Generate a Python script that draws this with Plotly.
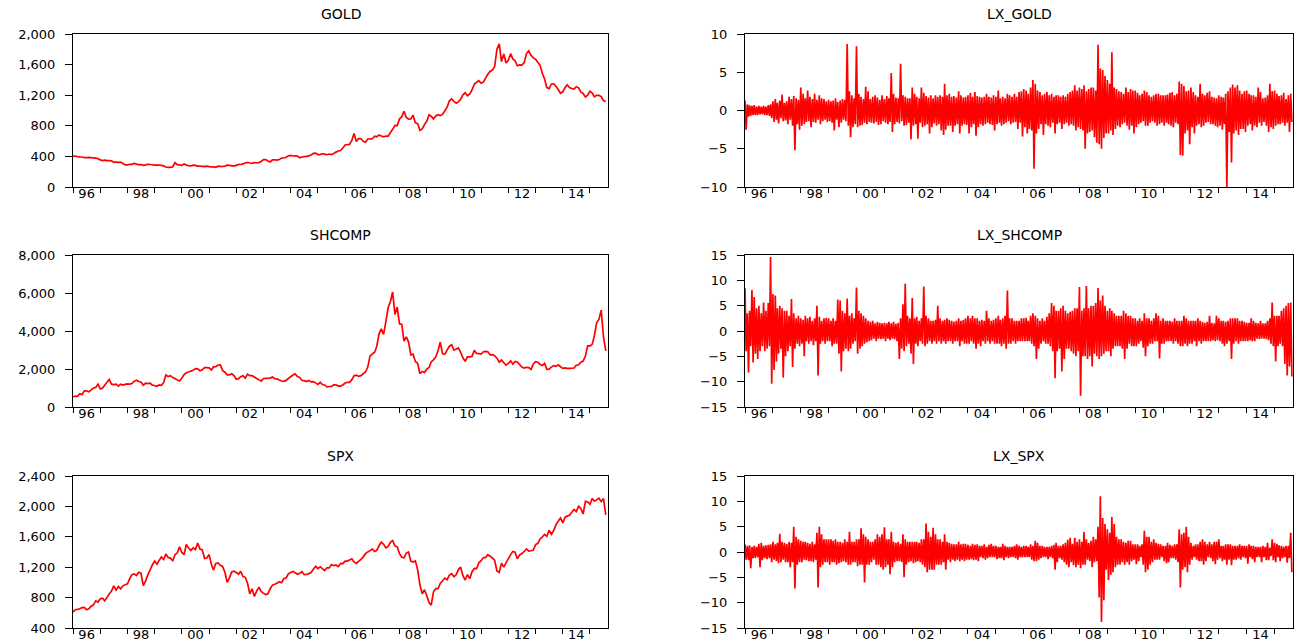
import pandas as pd
import plotly.graph_objects as go

# ---------------- data (monthly readings, Jan 1996 - Aug 2015) ----------------
MONTHS = pd.date_range("1996-01-01", "2015-08-01", freq="MS")

GOLD = [
    400, 405, 396, 393, 392, 385, 383, 387, 383, 381, 378, 369,
    355, 346, 352, 344, 344, 341, 324, 324, 323, 325, 306, 289,
    289, 297, 296, 308, 299, 292, 293, 284, 289, 296, 294, 291,
    287, 287, 286, 282, 277, 261, 256, 257, 265, 320, 293, 290,
    284, 300, 286, 280, 275, 285, 282, 274, 273, 270, 266, 272,
    266, 262, 263, 258, 272, 270, 268, 273, 285, 283, 276, 276,
    282, 296, 294, 302, 314, 322, 314, 310, 319, 317, 319, 333,
    357, 359, 340, 328, 355, 356, 351, 360, 379, 379, 389, 407,
    414, 405, 406, 404, 383, 392, 398, 400, 406, 420, 439, 442,
    424, 424, 434, 429, 422, 431, 424, 438, 456, 470, 476, 510,
    549, 555, 557, 610, 700, 596, 633, 632, 598, 586, 628, 629,
    631, 664, 655, 679, 667, 655, 665, 665, 712, 754, 806, 803,
    889, 922, 990, 909, 888, 889, 939, 839, 829, 740, 760, 816,
    858, 943, 925, 890, 928, 945, 934, 949, 996, 1043, 1127, 1150,
    1118, 1095, 1113, 1148, 1205, 1232, 1193, 1215, 1271, 1343, 1370, 1391,
    1356, 1372, 1424, 1473, 1510, 1529, 1572, 1800, 1870, 1640, 1739, 1620,
    1656, 1743, 1674, 1650, 1585, 1596, 1594, 1626, 1744, 1780, 1721, 1688,
    1670, 1627, 1593, 1487, 1414, 1300, 1286, 1347, 1349, 1316, 1275, 1225,
    1244, 1300, 1336, 1299, 1287, 1279, 1311, 1296, 1239, 1223, 1176, 1200,
    1251, 1227, 1179, 1198, 1199, 1181, 1131, 1117,
]

SHCOMP = [
    537, 570, 560, 700, 650, 850, 850, 800, 900, 1000, 1030, 1200,
    950, 1000, 1150, 1300, 1450, 1200, 1180, 1200, 1100, 1200, 1150, 1190,
    1220, 1200, 1240, 1350, 1410, 1340, 1320, 1150, 1250, 1230, 1250, 1150,
    1130, 1090, 1160, 1140, 1280, 1690, 1600, 1650, 1550, 1500, 1420, 1370,
    1530, 1710, 1800, 1840, 1890, 1930, 2020, 2010, 1910, 1960, 2070, 2070,
    2060, 1950, 2110, 2120, 2210, 2220, 1920, 1830, 1690, 1690, 1750, 1650,
    1460, 1490, 1600, 1650, 1520, 1730, 1650, 1650, 1580, 1500, 1440, 1360,
    1500, 1510, 1510, 1520, 1580, 1490, 1480, 1420, 1370, 1350, 1400, 1500,
    1590, 1680, 1740, 1600, 1560, 1400, 1390, 1340, 1400, 1320, 1340, 1270,
    1190, 1300, 1180, 1160, 1060, 1080, 1080, 1160, 1160, 1100, 1100, 1160,
    1260, 1300, 1300, 1440, 1640, 1670, 1610, 1650, 1750, 1840, 2100, 2680,
    2790, 2880, 3180, 3840, 4110, 3820, 4470, 5220, 5550, 6050, 4870, 5260,
    4380, 4350, 3470, 3690, 3430, 2740, 2780, 2400, 2290, 1750, 1870, 1820,
    1990, 2080, 2370, 2480, 2630, 2960, 3412, 2800, 2780, 2990, 3200, 3280,
    2990, 3050, 3110, 2870, 2590, 2400, 2640, 2640, 2660, 2980, 2820, 2810,
    2790, 2910, 2930, 2910, 2740, 2760, 2700, 2570, 2360, 2470, 2330, 2200,
    2290, 2430, 2260, 2400, 2370, 2230, 2100, 2050, 2090, 2070, 1980, 2270,
    2390, 2360, 2240, 2180, 2300, 1980, 1990, 2100, 2170, 2140, 2220, 2120,
    2030, 2060, 2030, 2030, 2040, 2050, 2200, 2220, 2360, 2420, 2680, 3230,
    3210, 3310, 3750, 4440, 4610, 5100, 3700, 2950,
]

SPX = [
    610, 640, 645, 654, 669, 671, 640, 652, 687, 705, 757, 741,
    786, 791, 757, 801, 848, 885, 954, 899, 947, 915, 955, 970,
    980, 1049, 1102, 1112, 1091, 1134, 1121, 957, 1017, 1099, 1164, 1229,
    1280, 1238, 1286, 1335, 1302, 1373, 1329, 1320, 1283, 1363, 1389, 1469,
    1394, 1366, 1499, 1452, 1421, 1455, 1431, 1518, 1437, 1429, 1315, 1320,
    1366, 1240, 1160, 1249, 1256, 1224, 1211, 1134, 1000, 1060, 1139, 1148,
    1130, 1107, 1147, 1077, 1067, 990, 850, 916, 815, 886, 936, 880,
    856, 841, 848, 917, 964, 975, 990, 1008, 996, 1051, 1058, 1112,
    1131, 1145, 1126, 1107, 1121, 1141, 1102, 1104, 1115, 1130, 1174, 1212,
    1181, 1204, 1181, 1157, 1192, 1191, 1234, 1220, 1229, 1207, 1249, 1248,
    1280, 1281, 1295, 1311, 1270, 1250, 1277, 1304, 1336, 1378, 1401, 1418,
    1438, 1407, 1421, 1482, 1531, 1503, 1455, 1474, 1527, 1549, 1481, 1468,
    1379, 1331, 1323, 1386, 1400, 1280, 1267, 1283, 1165, 969, 850, 903,
    826, 735, 700, 873, 919, 919, 987, 1021, 1057, 1036, 1096, 1115,
    1074, 1104, 1169, 1200, 1089, 1031, 1102, 1049, 1141, 1183, 1181, 1258,
    1286, 1327, 1326, 1364, 1345, 1321, 1292, 1150, 1131, 1253, 1200, 1258,
    1312, 1366, 1408, 1398, 1310, 1362, 1379, 1407, 1441, 1412, 1416, 1426,
    1498, 1515, 1569, 1598, 1631, 1606, 1686, 1633, 1682, 1757, 1806, 1848,
    1783, 1859, 1872, 1884, 1924, 1960, 1931, 2003, 1972, 1900, 2068, 2059,
    2028, 2105, 2068, 2086, 2107, 2063, 2104, 1890,
]

# monthly highest / lowest daily log-returns (%)
LX_GOLD_HI = [
    1.3, 0.8, 0.7, 0.6, 0.7, 0.5, 0.6, 0.5, 0.6, 0.5, 0.7, 0.8,
    1.2, 1.5, 1.0, 1.3, 2.1, 1.0, 1.2, 1.8, 1.5, 1.9, 1.6, 1.4,
    3.0, 2.2, 1.6, 2.6, 1.8, 1.5, 2.2, 1.4, 2.0, 1.6, 1.5, 1.2,
    1.4, 1.2, 1.3, 1.6, 1.1, 1.3, 1.5, 1.4, 8.7, 2.5, 2.0, 1.6,
    8.4, 2.2, 1.8, 1.5, 3.1, 2.5, 1.5, 1.8, 2.0, 1.7, 1.4, 2.0,
    1.5, 1.9, 1.6, 4.9, 2.2, 1.7, 1.6, 6.1, 2.0, 1.8, 1.6, 1.6,
    3.0, 2.2, 1.8, 1.6, 3.0, 2.3, 1.9, 1.7, 2.0, 1.6, 2.0, 1.8,
    2.0, 1.8, 3.5, 2.0, 2.2, 1.8, 1.9, 1.7, 2.5, 2.0, 1.7, 1.8,
    2.0, 2.3, 1.8, 2.4, 1.9, 1.8, 1.7, 1.8, 2.2, 1.8, 1.7, 2.0,
    1.8, 2.6, 1.6, 1.8, 1.6, 2.2, 2.0, 1.8, 2.2, 1.8, 2.4, 2.5,
    2.8, 2.6, 2.2, 3.0, 4.0, 3.5, 2.6, 2.4, 2.0, 2.2, 2.4, 2.0,
    2.2, 1.8, 2.0, 2.0, 1.8, 2.0, 1.8, 2.2, 2.4, 2.6, 3.3, 2.6,
    3.0, 2.8, 3.3, 2.5, 2.8, 3.0, 3.0, 2.6, 8.6, 5.5, 5.3, 4.5,
    4.0, 3.5, 7.6, 3.0, 2.8, 2.5, 2.4, 2.2, 3.0, 2.4, 2.8, 2.6,
    2.6, 2.3, 2.0, 2.2, 2.6, 2.4, 2.0, 1.8, 2.0, 2.2, 2.2, 2.0,
    2.0, 2.0, 2.1, 2.3, 2.4, 2.0, 2.2, 3.8, 3.5, 3.2, 2.5, 2.6,
    3.0, 2.4, 2.0, 1.8, 3.5, 2.2, 2.0, 2.3, 2.5, 1.8, 1.7, 1.6,
    2.0, 1.8, 1.7, 2.2, 2.5, 3.0, 3.4, 3.0, 3.3, 2.6, 2.2, 2.5,
    2.6, 2.2, 2.0, 2.0, 1.8, 3.0, 2.4, 1.6, 1.7, 2.0, 3.5, 2.5,
    2.6, 2.2, 1.9, 2.0, 2.3, 1.5, 2.0, 2.2,
]
LX_GOLD_LO = [
    -2.5, -0.8, -0.7, -0.6, -0.6, -0.6, -0.5, -0.5, -0.6, -0.6, -0.7, -1.0,
    -1.5, -1.2, -1.7, -1.0, -1.4, -1.3, -1.8, -1.2, -2.0, -5.2, -1.8, -2.5,
    -2.0, -1.8, -1.5, -1.4, -2.2, -1.5, -1.6, -1.2, -1.8, -1.4, -1.2, -1.5,
    -1.4, -1.6, -2.6, -1.2, -2.2, -1.6, -1.2, -1.4, -2.0, -3.5, -2.2, -1.8,
    -2.2, -2.0, -1.9, -1.6, -1.8, -1.5, -1.6, -1.7, -1.5, -1.9, -1.8, -1.4,
    -1.6, -1.8, -1.5, -2.8, -1.8, -1.5, -1.7, -1.4, -2.0, -1.9, -1.6, -3.8,
    -2.0, -1.8, -3.7, -1.6, -2.2, -2.0, -1.8, -3.0, -2.2, -1.7, -2.0, -1.8,
    -2.6, -3.2, -2.5, -2.0, -2.0, -2.8, -2.0, -1.8, -3.0, -2.0, -1.8, -1.9,
    -3.0, -2.2, -1.8, -3.3, -2.2, -1.8, -2.0, -1.8, -1.6, -1.8, -1.9, -2.6,
    -1.8, -1.6, -2.0, -1.8, -1.6, -1.4, -1.8, -1.6, -1.5, -2.4, -1.6, -3.4,
    -2.2, -3.0, -2.4, -2.6, -7.6, -3.0, -2.4, -1.8, -3.2, -1.8, -2.0, -2.2,
    -1.6, -3.0, -1.8, -1.6, -2.4, -1.8, -1.6, -2.0, -1.8, -2.0, -2.6, -2.2,
    -2.4, -2.6, -5.0, -3.0, -2.8, -2.6, -3.5, -4.2, -4.4, -5.0, -3.6, -3.0,
    -3.0, -2.6, -3.2, -2.4, -2.0, -2.2, -1.8, -1.6, -2.0, -2.5, -2.0, -3.0,
    -2.2, -1.8, -1.6, -1.4, -2.0, -2.0, -1.6, -1.4, -1.6, -2.0, -1.8, -1.6,
    -2.0, -1.6, -1.8, -2.0, -2.2, -1.6, -1.8, -5.8, -5.9, -3.0, -2.6, -4.4,
    -2.2, -3.0, -2.0, -1.8, -2.2, -2.0, -1.6, -1.5, -1.8, -1.8, -2.0, -2.2,
    -2.0, -2.5, -1.8, -10.0, -2.8, -6.8, -3.0, -2.6, -3.2, -2.4, -2.4, -2.8,
    -2.0, -1.8, -2.6, -2.0, -2.2, -1.6, -2.0, -1.5, -2.0, -2.8, -2.2, -2.4,
    -2.0, -1.8, -1.8, -1.6, -2.0, -1.6, -2.8, -1.5,
]

LX_SHCOMP_HI = [
    8.5, 3.5, 4.0, 8.1, 6.7, 4.5, 5.0, 3.5, 5.6, 4.0, 5.5, 14.6,
    7.3, 7.0, 4.5, 5.0, 4.5, 4.0, 4.0, 3.0, 6.3, 3.5, 2.5, 3.0,
    2.5, 2.2, 3.0, 2.5, 2.8, 2.0, 2.5, 5.0, 2.8, 2.0, 2.5, 2.6,
    2.5, 2.0, 2.5, 2.0, 6.2, 6.0, 4.0, 3.5, 6.4, 3.0, 3.5, 2.5,
    8.6, 4.0, 3.5, 3.0, 2.5, 2.0, 1.8, 2.0, 1.5, 1.8, 1.6, 1.5,
    1.6, 1.5, 1.8, 1.5, 1.8, 1.4, 1.6, 2.5, 5.3, 9.3, 3.0, 2.5,
    6.5, 2.5, 2.8, 2.0, 2.5, 8.8, 3.0, 2.5, 2.0, 2.0, 2.2, 5.0,
    2.5, 2.0, 2.2, 2.5, 2.2, 2.0, 1.8, 2.0, 2.5, 2.0, 2.2, 2.5,
    3.0, 2.5, 3.0, 2.5, 2.5, 2.0, 2.2, 2.0, 4.0, 2.5, 2.0, 2.2,
    2.5, 3.0, 2.2, 2.5, 3.0, 8.0, 2.5, 2.5, 2.0, 2.0, 2.0, 2.5,
    2.5, 2.6, 2.0, 3.0, 3.5, 3.0, 2.5, 2.0, 2.5, 2.0, 2.8, 3.5,
    5.5, 5.0, 4.0, 4.0, 4.5, 5.0, 4.0, 3.5, 3.8, 4.0, 4.5, 4.5,
    8.7, 4.0, 4.5, 8.9, 4.5, 5.0, 5.0, 5.5, 8.5, 6.0, 7.0, 5.0,
    4.0, 4.5, 4.0, 3.5, 3.0, 3.0, 3.0, 4.0, 3.5, 3.0, 3.0, 2.5,
    2.5, 2.0, 2.5, 2.0, 3.5, 2.5, 2.5, 2.0, 2.5, 3.5, 3.0, 2.0,
    2.5, 2.0, 2.0, 2.0, 1.8, 2.5, 2.0, 2.0, 2.0, 3.0, 2.5, 2.0,
    2.0, 2.0, 2.0, 2.5, 2.0, 1.8, 1.6, 1.8, 3.0, 1.6, 1.5, 3.0,
    2.5, 2.0, 2.0, 1.8, 2.0, 2.5, 2.5, 2.5, 2.5, 2.0, 2.0, 1.8,
    1.6, 1.6, 2.5, 2.0, 1.6, 1.5, 2.0, 1.5, 1.5, 2.0, 2.5, 5.6,
    3.0, 3.0, 3.0, 4.0, 4.5, 5.0, 5.5, 5.6,
]
LX_SHCOMP_LO = [
    -4.0, -8.2, -3.0, -6.2, -4.5, -5.5, -4.0, -3.0, -4.0, -3.5, -3.0, -10.4,
    -7.7, -6.0, -4.5, -3.5, -9.2, -5.0, -4.0, -3.0, -7.1, -3.5, -2.5, -3.0,
    -2.5, -5.0, -2.0, -2.5, -2.0, -2.8, -2.0, -8.8, -2.5, -2.0, -2.5, -2.0,
    -2.0, -3.0, -2.5, -2.5, -4.5, -8.0, -4.0, -3.5, -4.0, -3.5, -2.5, -2.0,
    -4.5, -3.5, -3.0, -2.5, -2.2, -2.0, -1.8, -1.5, -2.0, -1.5, -1.6, -1.5,
    -2.0, -1.5, -1.8, -1.5, -1.6, -2.0, -5.5, -3.5, -4.0, -3.0, -2.5, -4.5,
    -6.5, -2.5, -3.0, -2.0, -2.5, -3.0, -2.5, -2.0, -2.5, -2.0, -2.5, -2.0,
    -2.5, -2.0, -2.5, -2.0, -2.0, -2.5, -2.0, -2.0, -3.0, -2.0, -2.5, -2.5,
    -2.5, -2.0, -2.5, -3.5, -2.5, -3.0, -2.0, -2.5, -2.0, -2.5, -2.0, -2.5,
    -2.5, -2.5, -3.0, -2.5, -3.5, -2.5, -2.5, -2.0, -2.5, -2.0, -2.0, -2.0,
    -2.0, -2.0, -2.0, -2.5, -3.0, -5.5, -3.5, -2.5, -2.0, -2.5, -2.5, -3.0,
    -4.0, -9.3, -4.0, -3.5, -8.0, -5.5, -3.5, -3.5, -4.0, -4.5, -5.0, -4.0,
    -12.8, -5.0, -5.0, -5.5, -5.0, -7.0, -4.5, -5.0, -5.5, -5.0, -4.5, -4.0,
    -4.0, -5.0, -3.5, -3.0, -3.0, -3.0, -3.5, -5.5, -3.5, -2.5, -3.0, -3.0,
    -3.0, -2.5, -2.0, -3.3, -5.0, -3.0, -2.5, -2.5, -2.0, -2.0, -5.4, -2.5,
    -2.5, -2.0, -2.0, -2.0, -2.5, -2.0, -2.5, -3.0, -3.0, -2.5, -3.0, -2.5,
    -2.5, -2.0, -3.0, -2.0, -2.5, -2.0, -2.0, -2.0, -2.0, -1.8, -2.0, -1.8,
    -2.0, -2.5, -3.0, -2.5, -2.0, -5.5, -2.5, -2.0, -2.5, -2.0, -2.0, -2.0,
    -2.0, -1.8, -2.0, -2.0, -1.5, -1.6, -1.5, -1.5, -1.6, -1.8, -2.5, -3.0,
    -6.0, -3.0, -2.5, -3.0, -6.5, -8.8, -7.0, -9.0,
]

LX_SPX_HI = [
    1.5, 1.2, 1.3, 1.0, 1.2, 1.0, 1.6, 1.8, 1.2, 1.3, 1.4, 1.5,
    2.0, 1.5, 1.8, 3.6, 2.0, 1.8, 1.6, 2.0, 1.8, 5.0, 3.0, 2.5,
    2.2, 2.0, 2.0, 1.8, 1.6, 2.0, 1.5, 3.8, 5.0, 3.5, 2.5, 2.5,
    2.5, 2.5, 2.2, 2.5, 2.0, 2.0, 1.8, 2.5, 2.0, 4.0, 2.0, 2.0,
    2.5, 2.5, 4.7, 3.5, 3.0, 2.5, 2.0, 2.0, 2.5, 3.5, 3.0, 3.5,
    4.9, 2.5, 2.5, 4.0, 2.0, 1.8, 2.0, 1.6, 3.5, 2.5, 2.0, 2.0,
    2.0, 2.0, 2.0, 1.8, 2.5, 2.5, 5.6, 4.0, 3.0, 4.8, 3.5, 2.5,
    2.5, 2.0, 3.5, 2.0, 1.8, 1.6, 1.5, 1.5, 2.0, 1.5, 1.6, 1.6,
    1.4, 1.2, 1.6, 1.4, 1.5, 1.2, 1.2, 1.5, 1.0, 1.4, 1.6, 1.2,
    1.2, 1.0, 1.0, 1.6, 1.2, 1.0, 1.0, 1.0, 1.2, 1.5, 1.2, 1.0,
    1.2, 1.2, 1.0, 1.5, 1.2, 2.2, 1.8, 1.2, 1.2, 1.0, 1.0, 1.0,
    1.2, 1.4, 1.8, 1.2, 1.2, 1.5, 1.8, 2.4, 2.8, 1.6, 2.8, 2.0,
    2.5, 2.0, 4.0, 2.5, 1.8, 2.2, 3.0, 2.5, 5.0, 11.0, 6.7, 5.5,
    4.5, 3.8, 6.9, 5.5, 3.0, 2.5, 2.5, 2.0, 1.8, 2.2, 2.2, 1.5,
    1.5, 1.5, 1.2, 1.5, 4.2, 3.0, 3.0, 2.0, 2.5, 1.8, 1.6, 1.5,
    1.2, 1.2, 1.8, 1.4, 1.2, 1.5, 1.5, 4.5, 3.5, 3.8, 5.0, 3.0,
    1.8, 1.2, 1.5, 1.5, 2.0, 2.5, 2.0, 1.5, 2.0, 1.5, 2.0, 2.0,
    2.5, 1.2, 1.2, 1.5, 1.5, 1.5, 1.2, 1.2, 1.2, 1.5, 1.2, 1.2,
    1.2, 1.5, 1.2, 1.2, 1.0, 1.0, 1.0, 1.2, 1.0, 1.8, 0.8, 2.5,
    1.8, 1.6, 1.3, 1.2, 1.0, 1.2, 1.2, 3.8,
]
LX_SPX_LO = [
    -1.5, -1.6, -3.2, -1.2, -1.2, -1.0, -3.0, -1.6, -1.2, -1.4, -1.2, -2.0,
    -1.5, -1.8, -2.2, -2.0, -1.5, -2.0, -2.0, -3.0, -2.0, -7.2, -2.5, -2.0,
    -2.0, -1.5, -1.6, -1.8, -1.8, -2.0, -1.5, -7.0, -3.0, -2.5, -2.0, -2.0,
    -2.5, -2.0, -2.0, -2.5, -2.2, -2.0, -1.8, -2.0, -2.5, -2.5, -2.0, -2.0,
    -2.8, -2.5, -2.5, -6.0, -2.5, -2.5, -2.0, -1.5, -2.5, -2.5, -3.0, -3.5,
    -3.0, -2.5, -4.4, -3.0, -2.0, -1.8, -1.8, -2.0, -5.0, -2.5, -2.0, -1.8,
    -2.2, -2.0, -1.8, -2.0, -2.5, -3.0, -4.0, -3.5, -3.5, -3.5, -2.5, -2.5,
    -2.5, -2.0, -3.5, -1.5, -2.0, -1.5, -1.8, -1.5, -1.8, -1.5, -1.8, -1.5,
    -1.5, -1.4, -1.6, -1.5, -1.8, -1.0, -1.2, -1.5, -1.2, -1.0, -1.0, -1.0,
    -1.4, -1.2, -1.2, -1.6, -1.0, -1.2, -1.0, -1.0, -1.2, -1.5, -1.0, -1.0,
    -1.0, -1.0, -1.0, -1.5, -1.8, -1.8, -1.5, -1.2, -1.0, -1.0, -1.4, -1.0,
    -1.2, -3.5, -2.0, -1.2, -1.5, -2.0, -2.5, -3.0, -2.0, -2.6, -3.0, -2.5,
    -3.2, -2.5, -2.5, -1.5, -1.8, -3.0, -2.0, -1.8, -9.0, -13.8, -9.5, -3.5,
    -5.5, -4.5, -4.0, -3.0, -2.5, -2.5, -2.0, -2.5, -2.0, -2.5, -1.8, -1.5,
    -2.4, -1.8, -1.0, -2.5, -4.0, -3.5, -2.5, -2.0, -1.5, -1.5, -1.5, -1.0,
    -1.8, -2.2, -2.0, -1.2, -1.2, -1.5, -2.0, -7.0, -3.5, -3.0, -4.0, -2.5,
    -1.5, -1.0, -1.5, -1.8, -1.8, -2.5, -1.8, -1.0, -1.2, -1.8, -2.4, -1.5,
    -1.2, -1.8, -1.5, -2.5, -1.5, -2.6, -1.5, -1.5, -1.2, -1.5, -1.0, -1.2,
    -2.3, -1.0, -1.4, -2.0, -1.0, -1.0, -2.0, -1.0, -1.6, -1.6, -0.8, -1.6,
    -2.0, -1.0, -1.8, -1.2, -1.0, -2.1, -1.2, -4.0,
]

# axis labels
YEAR_TICKS = list(range(1996, 2016))
LABEL_YEARS = list(range(1996, 2015, 2))
LABEL_TEXT = [f"{y % 100:02d}" for y in LABEL_YEARS]

for arr in (GOLD, SHCOMP, SPX, LX_GOLD_HI, LX_GOLD_LO, LX_SHCOMP_HI,
            LX_SHCOMP_LO, LX_SPX_HI, LX_SPX_LO):
    assert len(arr) == len(MONTHS), len(arr)

# ---------------- figure ----------------
W, H = 1295, 644
RED = "#FF0000"
FONT = "DejaVu Sans, Liberation Sans, Arial, sans-serif"


def px_x(a, b):
    return [a / W, b / W]


def px_y(top, bottom):
    return [1 - bottom / H, 1 - top / H]


LEFT = px_x(73, 608)
RIGHT = px_x(745, 1293)
ROWS = [px_y(34, 187), px_y(255, 407), px_y(476, 628)]

x_price = list(MONTHS)
x_ret = []
for m in MONTHS:
    x_ret.append(m)
    x_ret.append(m + pd.Timedelta(days=15))


def interleave(hi, lo):
    out = []
    for a, b in zip(hi, lo):
        out.extend([a, b])
    return out


panels = [
    # (title, x, y, xdomain, ydomain, yrange, dtick, width)
    ("GOLD", x_price, GOLD, LEFT, ROWS[0], [0, 2000], 400, 1.7),
    ("LX_GOLD", x_ret, interleave(LX_GOLD_HI, LX_GOLD_LO), RIGHT, ROWS[0], [-10, 10], 5, 1.7),
    ("SHCOMP", x_price, SHCOMP, LEFT, ROWS[1], [0, 8000], 2000, 1.7),
    ("LX_SHCOMP", x_ret, interleave(LX_SHCOMP_HI, LX_SHCOMP_LO), RIGHT, ROWS[1], [-15, 15], 5, 1.7),
    ("SPX", x_price, SPX, LEFT, ROWS[2], [400, 2400], 400, 1.7),
    ("LX_SPX", x_ret, interleave(LX_SPX_HI, LX_SPX_LO), RIGHT, ROWS[2], [-15, 15], 5, 1.7),
]

fig = go.Figure()
layout = dict(
    width=W, height=H,
    margin=dict(l=0, r=0, t=0, b=0, autoexpand=False),
    paper_bgcolor="white", plot_bgcolor="white",
    showlegend=False,
    font=dict(family=FONT, size=13, color="black"),
    annotations=[],
)

for i, (title, xs, ys, xd, yd, yr, dt, lw) in enumerate(panels, start=1):
    sx = "" if i == 1 else str(i)
    fig.add_trace(go.Scatter(
        x=xs, y=ys, mode="lines", xaxis=f"x{sx}", yaxis=f"y{sx}",
        line=dict(color=RED, width=lw, simplify=False), hoverinfo="skip",
    ))
    layout[f"xaxis{sx}"] = dict(
        domain=xd, anchor=f"y{sx}", type="date", automargin=False,
        range=["1996-01-01", "2015-08-31"],
        tickmode="array",
        tickvals=[f"{y}-07-02" for y in LABEL_YEARS],
        ticktext=LABEL_TEXT,
        ticks="outside", ticklen=0, ticklabelstandoff=-6,
        showline=True, linecolor="black", linewidth=1, mirror=True,
        showgrid=False, zeroline=False,
        tickfont=dict(size=13, family=FONT, color="black"),
        minor=dict(tickmode="array",
                   tickvals=[f"{y}-01-01" for y in YEAR_TICKS],
                   ticks="outside", ticklen=5, tickcolor="black", tickwidth=1,
                   showgrid=False),
    )
    yfmt = "," if yr[1] >= 1000 else ""
    layout[f"yaxis{sx}"] = dict(
        domain=yd, anchor=f"x{sx}", range=yr, dtick=dt, tick0=yr[0],
        tickformat=yfmt, automargin=False,
        ticks="outside", ticklen=7, tickcolor="black", ticklabelstandoff=7,
        showline=True, linecolor="black", linewidth=1, mirror=True,
        showgrid=False, zeroline=False,
        tickfont=dict(size=13, family=FONT, color="black"),
    )
    xc = (xd[0] + xd[1]) / 2
    ytop_px = (1 - yd[1]) * H
    layout["annotations"].append(dict(
        text=title, xref="paper", yref="paper", x=xc,
        y=1 - (ytop_px - 20) / H, xanchor="center", yanchor="middle",
        showarrow=False, font=dict(size=14, family=FONT, color="black"),
    ))

fig.update_layout(**layout)
fig.write_html(
    "out.html",
    config={"displayModeBar": False},
    post_script="document.body.style.margin='0';document.body.style.overflow='hidden';",
)
